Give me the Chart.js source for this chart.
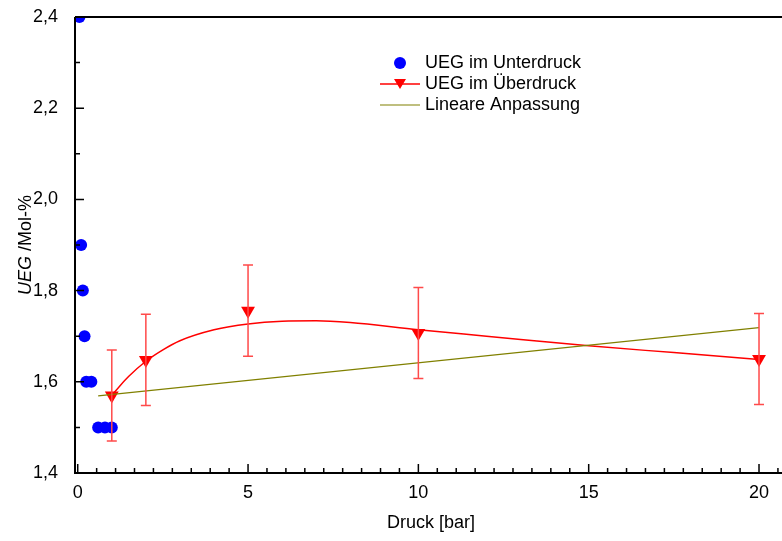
<!DOCTYPE html>
<html>
<head>
<meta charset="utf-8">
<script src="https://cdn.jsdelivr.net/npm/chart.js@4.4.1/dist/chart.umd.min.js"></script>
<style>
    html, body { margin: 0; padding: 0; background: #fff; }
    #wrap { width: 782px; height: 541px; }
</style>
</head>
<body>
<div id="wrap"><canvas id="chart" width="782" height="541"></canvas></div>
<script>
// Unterdruck (blaue Punkte)
const lowX = [0.05, 0.1, 0.15, 0.2, 0.25, 0.4, 0.6, 0.8, 1.0];
const lowY = [2.4, 1.9, 1.8, 1.7, 1.6, 1.6, 1.5, 1.5, 1.5];

// Überdruck (rote Dreiecke mit Fehlerbalken)
const highX = [1, 2, 5, 10, 20];
const highY = [1.57, 1.648, 1.756, 1.707, 1.65];
const highErr = [0.1, 0.1, 0.1, 0.1, 0.1];

// rote Ausgleichskurve
const curveX = [1, 1.25, 1.5, 2, 2.5, 3, 4, 5, 6, 7, 8, 10, 12, 15, 17.5, 20];
const curveY = [1.57, 1.592, 1.612, 1.645, 1.67, 1.69, 1.714, 1.727, 1.733, 1.734, 1.73, 1.714, 1.70, 1.679, 1.664, 1.649];

// Lineare Anpassung
const fitX = [0.6, 20];
const fitY = [1.569, 1.719];

// Achsen
const xMajor = [0, 5, 10, 15, 20];
const yMajor = [1.4, 1.6, 1.8, 2.0, 2.2, 2.4];
const yMinor = [1.5, 1.7, 1.9, 2.1, 2.3];
const xMinorPerMajor = 8;

const FONT = '"Liberation Sans", Arial, sans-serif';

function pts(xs, ys) {
    return xs.map(function (x, i) { return { x: x, y: ys[i] }; });
}

const fmt = function (v) { return v.toFixed(1).replace('.', ','); };

const axesPlugin = {
    id: 'axesPlugin',
    afterDraw: function (chart) {
        const ctx = chart.ctx;
        const a = chart.chartArea;
        const xs = chart.scales.x;
        const ys = chart.scales.y;
        ctx.save();
        ctx.strokeStyle = '#000';
        ctx.lineWidth = 2;
        ctx.beginPath();
        ctx.moveTo(a.left, a.top);
        ctx.lineTo(a.left, a.bottom);
        ctx.lineTo(chart.width, a.bottom);
        ctx.moveTo(a.left, a.top);
        ctx.lineTo(chart.width, a.top);
        ctx.stroke();

        ctx.lineWidth = 1.5;
        ctx.beginPath();
        // x ticks (inside)
        xMajor.forEach(function (v) {
            const p = xs.getPixelForValue(v);
            ctx.moveTo(p, a.bottom);
            ctx.lineTo(p, a.bottom - 9);
        });
        const step = 5 / (xMinorPerMajor + 1);
        for (let m = 0; m < 25; m += 5) {
            for (let k = 1; k <= xMinorPerMajor; k++) {
                const p = xs.getPixelForValue(m + k * step);
                if (p > chart.width) break;
                ctx.moveTo(p, a.bottom);
                ctx.lineTo(p, a.bottom - 5);
            }
        }
        // y ticks (inside)
        yMajor.forEach(function (v) {
            const p = ys.getPixelForValue(v);
            ctx.moveTo(a.left, p);
            ctx.lineTo(a.left + 9, p);
        });
        yMinor.forEach(function (v) {
            const p = ys.getPixelForValue(v);
            ctx.moveTo(a.left, p);
            ctx.lineTo(a.left + 5, p);
        });
        ctx.stroke();

        // Achsentitel
        ctx.fillStyle = '#000';
        ctx.font = '18px ' + FONT;
        ctx.textAlign = 'center';
        ctx.textBaseline = 'middle';
        ctx.fillText('Druck [bar]', 431, 523);

        ctx.translate(26, 245);
        ctx.rotate(-Math.PI / 2);
        ctx.font = 'italic 18px ' + FONT;
        const w1 = ctx.measureText('UEG').width;
        ctx.font = '18px ' + FONT;
        const w2 = ctx.measureText(' /Mol-%').width;
        ctx.textAlign = 'left';
        ctx.font = 'italic 18px ' + FONT;
        ctx.fillText('UEG', -(w1 + w2) / 2, 0);
        ctx.font = '18px ' + FONT;
        ctx.fillText(' /Mol-%', -(w1 + w2) / 2 + w1, 0);
        ctx.restore();
    }
};

const errorBarPlugin = {
    id: 'errorBars',
    afterDatasetsDraw: function (chart) {
        const ctx = chart.ctx;
        const xs = chart.scales.x;
        const ys = chart.scales.y;
        ctx.save();
        ctx.strokeStyle = '#ff4a4a';
        ctx.lineWidth = 1.5;
        ctx.beginPath();
        highX.forEach(function (x, i) {
            const px = xs.getPixelForValue(x);
            const top = ys.getPixelForValue(highY[i] + highErr[i]);
            const bot = ys.getPixelForValue(highY[i] - highErr[i]);
            ctx.moveTo(px, top);
            ctx.lineTo(px, bot);
            ctx.moveTo(px - 5, top);
            ctx.lineTo(px + 5, top);
            ctx.moveTo(px - 5, bot);
            ctx.lineTo(px + 5, bot);
        });
        ctx.stroke();
        ctx.restore();
    }
};

const legendPlugin = {
    id: 'innerLegend',
    afterDraw: function (chart) {
        const ctx = chart.ctx;
        ctx.save();
        ctx.font = '18px ' + FONT;
        ctx.fillStyle = '#000';
        ctx.textAlign = 'left';
        ctx.textBaseline = 'middle';

        ctx.fillStyle = '#0000ff';
        ctx.beginPath();
        ctx.arc(400, 63, 6, 0, Math.PI * 2);
        ctx.fill();

        ctx.strokeStyle = '#ff0000';
        ctx.lineWidth = 1.5;
        ctx.beginPath();
        ctx.moveTo(380, 84);
        ctx.lineTo(420, 84);
        ctx.stroke();
        ctx.fillStyle = '#ff0000';
        ctx.beginPath();
        ctx.moveTo(394, 79);
        ctx.lineTo(406, 79);
        ctx.lineTo(400, 89);
        ctx.closePath();
        ctx.fill();

        ctx.strokeStyle = '#808000';
        ctx.lineWidth = 1.2;
        ctx.beginPath();
        ctx.moveTo(380, 105);
        ctx.lineTo(420, 105);
        ctx.stroke();

        ctx.fillStyle = '#000';
        ctx.fillText('UEG im Unterdruck', 425, 63);
        ctx.fillText('UEG im Überdruck', 425, 84);
        ctx.fillText('Lineare Anpassung', 425, 105);
        ctx.restore();
    }
};

new Chart(document.getElementById('chart'), {
    type: 'scatter',
    data: {
        datasets: [{
            label: 'Lineare Anpassung',
            data: pts(fitX, fitY),
            showLine: true,
            borderColor: '#808000',
            borderWidth: 1.2,
            pointRadius: 0
        }, {
            label: 'Fit',
            data: pts(curveX, curveY),
            showLine: true,
            borderColor: '#ff0000',
            borderWidth: 1.5,
            pointRadius: 0,
            cubicInterpolationMode: 'monotone'
        }, {
            label: 'UEG im Überdruck',
            data: pts(highX, highY),
            pointStyle: 'triangle',
            rotation: 180,
            pointRadius: 8,
            backgroundColor: '#ff0000',
            borderColor: '#ff0000',
            borderWidth: 0,
            clip: false
        }, {
            label: 'UEG im Unterdruck',
            data: pts(lowX, lowY),
            pointStyle: 'circle',
            pointRadius: 6,
            backgroundColor: '#0000ff',
            borderColor: '#0000ff',
            borderWidth: 0,
            clip: 0
        }]
    },
    options: {
        responsive: false,
        animation: false,
        layout: { padding: { top: 17, right: 0, left: 0, bottom: 0 } },
        plugins: {
            legend: { display: false },
            tooltip: { enabled: false }
        },
        scales: {
            x: {
                type: 'linear',
                min: -0.08,
                max: 20.44,
                grid: { display: false, drawTicks: false },
                border: { display: false },
                afterBuildTicks: function (axis) {
                    axis.ticks = xMajor.map(function (v) { return { value: v }; });
                },
                afterFit: function (axis) {
                    axis.height = 68;
                    axis.paddingLeft = 0;
                    axis.paddingRight = 0;
                },
                ticks: {
                    padding: 9,
                    color: '#000',
                    font: { family: FONT, size: 18 },
                    maxRotation: 0,
                    callback: function (v) { return String(v); }
                }
            },
            y: {
                type: 'linear',
                min: 1.4,
                max: 2.4,
                grid: { display: false, drawTicks: false },
                border: { display: false },
                afterBuildTicks: function (axis) {
                    axis.ticks = yMajor.map(function (v) { return { value: v }; });
                },
                afterFit: function (axis) {
                    axis.width = 75;
                    axis.paddingTop = 0;
                    axis.paddingBottom = 0;
                },
                ticks: {
                    padding: 17,
                    color: '#000',
                    font: { family: FONT, size: 18 },
                    callback: function (v) { return fmt(v); }
                }
            }
        }
    },
    plugins: [errorBarPlugin, axesPlugin, legendPlugin]
});
</script>
</body>
</html>
